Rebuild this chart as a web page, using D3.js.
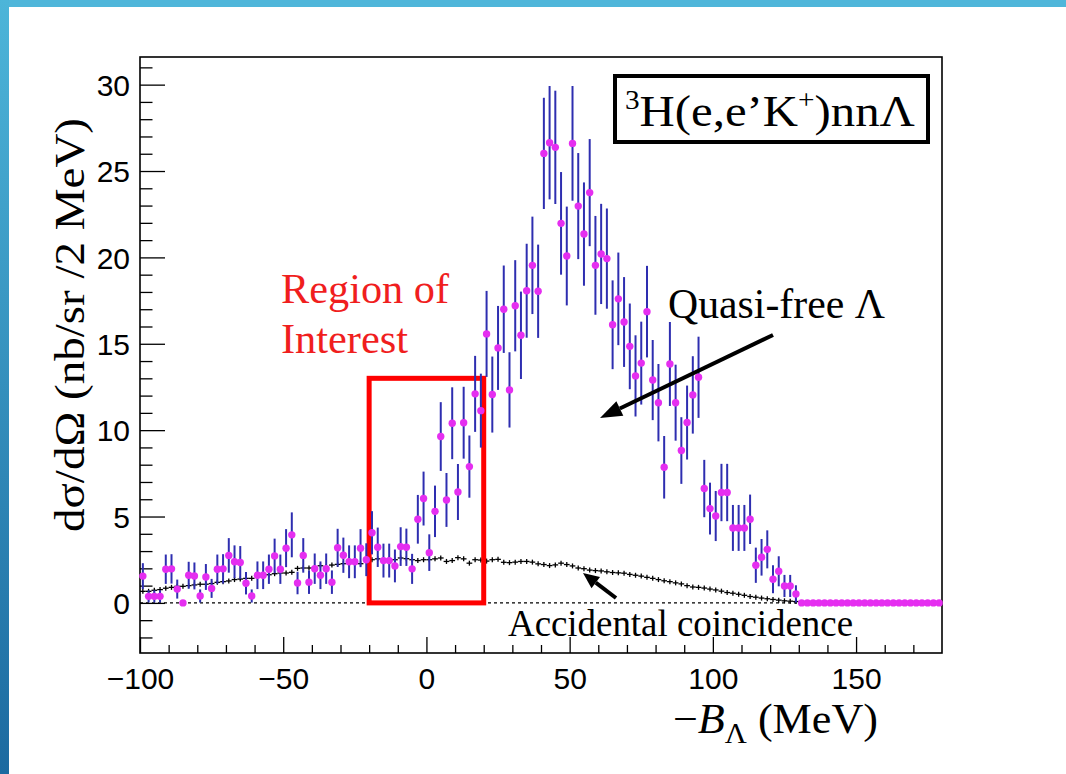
<!DOCTYPE html>
<html>
<head>
<meta charset="utf-8">
<script src="https://cdn.jsdelivr.net/npm/d3@7"></script>
<style>
  html, body { margin: 0; padding: 0; background: #ffffff; }
  svg { display: block; }
</style>
</head>
<body>
<svg id="chart" width="1066" height="774"></svg>
<script>
// 2 MeV bins from -100 to 180 MeV (bin centres)
const binCenters = d3.range(-99, 180, 2);

// Measured cross section, nb/sr per 2 MeV
const crossSection = [
  1.55, 0.38, 0.38, 0.38, 1.95, 1.97, 0.80, 0.00, 1.60, 1.56,
  0.40, 1.50, 0.84, 1.95, 1.97, 2.75, 2.38, 2.34, 1.14, 0.40,
  1.60, 1.60, 1.95, 2.72, 1.95, 3.17, 3.94, 1.15, 2.75, 1.20,
  1.98, 1.60, 1.98, 1.20, 3.19, 2.76, 2.38, 2.38, 3.17, 2.50,
  4.06, 3.22, 2.45, 2.45, 2.14, 3.26, 3.22, 1.97, 4.84, 6.04,
  2.91, 5.30, 9.63, 5.96, 10.40, 6.42, 10.43, 7.89, 12.10, 11.13,
  15.57, 12.06, 14.76, 17.00, 12.33, 17.20, 15.49, 18.07, 19.54, 18.04,
  26.02, 26.64, 26.37, 21.97, 20.08, 26.60, 22.97, 21.35, 23.75, 19.54,
  20.20, 19.93, 16.10, 17.60, 16.26, 14.85, 13.14, 13.88, 16.86, 12.90,
  11.59, 7.85, 13.83, 11.59, 8.82, 10.44, 12.04, 13.06, 6.62, 5.46,
  5.03, 6.39, 6.39, 4.34, 4.34, 4.34, 4.84, 2.18, 2.64, 3.10,
  1.37, 1.83, 0.98, 0.98, 0.52,
  0, 0, 0, 0, 0, 0, 0, 0, 0, 0, 0, 0, 0, 0, 0, 0, 0, 0, 0, 0, 0, 0, 0, 0, 0
];

// Statistical uncertainty of each bin
const crossSectionErr = [
  0.75, 0.35, 0.35, 0.35, 0.85, 0.85, 0.55, 0.00, 0.78, 0.78,
  0.38, 0.75, 0.55, 0.85, 0.85, 1.00, 0.95, 0.95, 0.65, 0.38,
  0.80, 0.80, 0.85, 1.00, 0.85, 1.10, 1.30, 0.65, 1.00, 0.68,
  0.88, 0.80, 0.88, 0.68, 1.10, 1.02, 0.95, 0.95, 1.10, 0.95,
  1.25, 1.14, 0.98, 0.98, 0.95, 1.12, 1.08, 0.87, 1.41, 1.56,
  1.06, 1.49, 1.99, 1.56, 2.08, 1.62, 2.08, 1.80, 2.20, 2.14,
  2.49, 2.20, 2.43, 2.53, 2.18, 2.64, 2.53, 2.72, 2.82, 2.70,
  3.22, 3.28, 3.28, 2.97, 2.86, 3.32, 3.07, 2.99, 3.10, 2.86,
  2.90, 2.90, 2.57, 2.68, 2.60, 2.48, 2.35, 2.40, 2.65, 2.32,
  2.24, 1.81, 2.43, 2.20, 1.93, 2.14, 2.24, 2.35, 1.66, 1.50,
  1.45, 1.66, 1.66, 1.33, 1.33, 1.33, 1.43, 1.02, 1.06, 1.10,
  0.81, 0.87, 0.64, 0.64, 0.50,
  0, 0, 0, 0, 0, 0, 0, 0, 0, 0, 0, 0, 0, 0, 0, 0, 0, 0, 0, 0, 0, 0, 0, 0, 0
];

// Accidental coincidence background, same binning
const accidentals = [
  0.67, 0.67, 0.73, 0.77, 0.85, 0.90, 0.96, 0.96, 1.00, 1.04,
  1.08, 1.08, 1.12, 1.19, 1.23, 1.27, 1.35, 1.38, 1.42, 1.42,
  1.58, 1.58, 1.63, 1.69, 1.73, 1.73, 1.77, 2.00, 2.02, 2.02,
  2.04, 2.15, 2.08, 2.19, 2.23, 2.27, 2.31, 2.31, 2.27, 2.46,
  2.50, 2.55, 2.48, 2.52, 2.50, 2.60, 2.56, 2.50, 2.45, 2.50,
  2.50, 2.55, 2.60, 2.40, 2.45, 2.62, 2.55, 2.30, 2.50, 2.48,
  2.42, 2.50, 2.52, 2.35, 2.33, 2.36, 2.40, 2.40, 2.36, 2.26,
  2.22, 2.16, 2.20, 2.30, 2.22, 2.14, 2.02, 1.98, 1.90, 1.87,
  1.85, 1.80, 1.76, 1.74, 1.72, 1.65, 1.60, 1.55, 1.48, 1.42,
  1.35, 1.28, 1.23, 1.16, 1.10, 1.00, 0.92, 0.90, 0.86, 0.80,
  0.75, 0.68, 0.60, 0.56, 0.50, 0.44, 0.37, 0.33, 0.28, 0.24,
  0.20, 0.16, 0.12, 0.10, 0.08,
  0, 0, 0, 0, 0, 0, 0, 0, 0, 0, 0, 0, 0, 0, 0, 0, 0, 0, 0, 0, 0, 0, 0, 0, 0
];

const xMajorTicks = [-100, -50, 0, 50, 100, 150];
const xMinorTicks = d3.range(-90, 180, 10).filter(v => v % 50 !== 0);
const yMajorTicks = [0, 5, 10, 15, 20, 25, 30];
const yMinorTicks = d3.range(-2, 32, 1).filter(v => v % 5 !== 0);

const regionOfInterest = { x0: -20, x1: 20, y0: 0, y1: 13 };
const binHalfWidth = 1;

const svg = d3.select("#chart");
const W = 1066, H = 774;
const frame = { left: 140, right: 942, top: 57, bottom: 653 };

const x = d3.scaleLinear().domain([-100, 180]).range([frame.left, frame.right]);
const y = d3.scaleLinear().domain([-2.9, 31.6]).range([frame.bottom, frame.top]);

const serif = "'Liberation Serif', 'Times New Roman', serif";
const sans = "'Liberation Sans', Arial, Helvetica, sans-serif";

// ---- slide decoration ----
const defs = svg.append("defs");
const grad = defs.append("linearGradient").attr("id", "sideBar")
  .attr("x1", 0).attr("y1", 0).attr("x2", 0).attr("y2", 1);
grad.append("stop").attr("offset", "0%").attr("stop-color", "#4db5d9");
grad.append("stop").attr("offset", "100%").attr("stop-color", "#1c6aa0");
svg.append("rect").attr("x", 0).attr("y", 0).attr("width", W).attr("height", 7).attr("fill", "#4fb6da");
svg.append("rect").attr("x", 0).attr("y", 0).attr("width", 9).attr("height", H).attr("fill", "url(#sideBar)");

// ---- zero line ----
svg.append("line")
  .attr("x1", frame.left).attr("x2", frame.right)
  .attr("y1", y(0)).attr("y2", y(0))
  .attr("stroke", "#000").attr("stroke-width", 1.2)
  .attr("stroke-dasharray", "3,3");

// ---- axes ----
const axisG = svg.append("g").attr("class", "axes");

const xAxisMajor = d3.axisBottom(x).tickValues(xMajorTicks)
  .tickSize(-16).tickPadding(10)
  .tickFormat(d => d < 0 ? "\u2212" + Math.abs(d) : String(d));
const xAxisMinor = d3.axisBottom(x).tickValues(xMinorTicks).tickSize(-8).tickFormat("");
const yAxisMajor = d3.axisLeft(y).tickValues(yMajorTicks)
  .tickSize(-25).tickPadding(10).tickFormat(d => String(d));
const yAxisMinor = d3.axisLeft(y).tickValues(yMinorTicks).tickSize(-12.5).tickFormat("");

function styleAxis(g) {
  g.select(".domain").remove();
  g.selectAll(".tick line").attr("stroke", "#000").attr("stroke-width", 1.3);
  g.selectAll(".tick text").attr("fill", "#000")
    .style("font-family", sans).style("font-size", "30px");
}

axisG.append("g").attr("transform", `translate(0,${frame.bottom})`).call(xAxisMinor).call(styleAxis);
axisG.append("g").attr("transform", `translate(0,${frame.bottom})`).call(xAxisMajor).call(styleAxis)
  .selectAll(".tick text").attr("dy", "0.88em");
axisG.append("g").attr("transform", `translate(${frame.left},0)`).call(yAxisMinor).call(styleAxis);
axisG.append("g").attr("transform", `translate(${frame.left},0)`).call(yAxisMajor).call(styleAxis)
  .selectAll(".tick text").attr("dy", "0.36em");

// plot frame
svg.append("rect")
  .attr("x", frame.left).attr("y", frame.top)
  .attr("width", frame.right - frame.left).attr("height", frame.bottom - frame.top)
  .attr("fill", "none").attr("stroke", "#000").attr("stroke-width", 1.6);

// ---- accidental coincidence histogram ----
const accG = svg.append("g").attr("stroke", "#000").attr("stroke-width", 1.3);
binCenters.forEach((c, i) => {
  const v = accidentals[i];
  accG.append("line")
    .attr("x1", x(c - binHalfWidth)).attr("x2", x(c + binHalfWidth))
    .attr("y1", y(v)).attr("y2", y(v));
  if (v > 0) {
    accG.append("line")
      .attr("x1", x(c)).attr("x2", x(c))
      .attr("y1", y(v) - 2.5).attr("y2", y(v) + 2.5);
  }
});

// ---- region of interest ----
svg.append("rect")
  .attr("x", x(regionOfInterest.x0))
  .attr("y", y(regionOfInterest.y1))
  .attr("width", x(regionOfInterest.x1) - x(regionOfInterest.x0))
  .attr("height", y(regionOfInterest.y0) - y(regionOfInterest.y1))
  .attr("fill", "none").attr("stroke", "#ff0000").attr("stroke-width", 5);

// ---- data: error bars + markers ----
const pts = binCenters.map((c, i) => ({ c, v: crossSection[i], e: crossSectionErr[i] }));

svg.append("g").selectAll("line").data(pts.filter(d => d.e > 0)).join("line")
  .attr("x1", d => x(d.c)).attr("x2", d => x(d.c))
  .attr("y1", d => y(d.v + d.e)).attr("y2", d => y(d.v - d.e))
  .attr("stroke", "#2e2eb0").attr("stroke-width", 2);

svg.append("g").selectAll("circle").data(pts).join("circle")
  .attr("cx", d => x(d.c)).attr("cy", d => y(d.v))
  .attr("r", 3.7).attr("fill", "#e52ef0");

// ---- axis titles ----
svg.append("text")
  .attr("transform", "translate(84,325) rotate(-90)")
  .attr("text-anchor", "middle")
  .attr("textLength", 414).attr("lengthAdjust", "spacingAndGlyphs")
  .style("font-family", serif).style("font-size", "42px").attr("fill", "#000")
  .text("d\u03c3/d\u03a9 (nb/sr /2 MeV)");

const xt = svg.append("text").attr("x", 673).attr("y", 733)
  .attr("textLength", 205).attr("lengthAdjust", "spacingAndGlyphs")
  .style("font-family", serif).style("font-size", "42px").attr("fill", "#000");
xt.append("tspan").text("\u2212");
xt.append("tspan").style("font-style", "italic").text("B");
xt.append("tspan").attr("dy", 10).style("font-size", "29px").text("\u039b");
xt.append("tspan").attr("dy", -10).text(" (MeV)");

// ---- reaction label box ----
svg.append("rect").attr("x", 615).attr("y", 76).attr("width", 313).attr("height", 66)
  .attr("fill", "#fff").attr("stroke", "#000").attr("stroke-width", 4);
const rx = svg.append("text").attr("x", 625).attr("y", 126)
  .attr("textLength", 290).attr("lengthAdjust", "spacingAndGlyphs")
  .style("font-family", serif).style("font-size", "45px").attr("fill", "#000");
rx.append("tspan").attr("dy", -17).style("font-size", "27px").text("3");
rx.append("tspan").attr("dy", 17).text("H(e,e\u2019K");
rx.append("tspan").attr("dy", -17).style("font-size", "27px").text("+");
rx.append("tspan").attr("dy", 17).text(")nn\u039b");

// ---- annotations ----
svg.append("text").attr("x", 281).attr("y", 303)
  .attr("textLength", 168).attr("lengthAdjust", "spacingAndGlyphs")
  .style("font-family", serif).style("font-size", "42px").attr("fill", "#f01e1e")
  .text("Region of");
svg.append("text").attr("x", 281).attr("y", 353)
  .attr("textLength", 127).attr("lengthAdjust", "spacingAndGlyphs")
  .style("font-family", serif).style("font-size", "42px").attr("fill", "#f01e1e")
  .text("Interest");

svg.append("text").attr("x", 668).attr("y", 318)
  .attr("textLength", 217).attr("lengthAdjust", "spacingAndGlyphs")
  .style("font-family", serif).style("font-size", "42px").attr("fill", "#000")
  .text("Quasi-free \u039b");

svg.append("text").attr("x", 508).attr("y", 636)
  .attr("textLength", 345).attr("lengthAdjust", "spacingAndGlyphs")
  .style("font-family", serif).style("font-size", "37px").attr("fill", "#000")
  .text("Accidental coincidence");

function arrow(x1, y1, x2, y2, width, headLen, headHalf) {
  const ang = Math.atan2(y2 - y1, x2 - x1);
  const bx = x2 - headLen * Math.cos(ang), by = y2 - headLen * Math.sin(ang);
  svg.append("line").attr("x1", x1).attr("y1", y1).attr("x2", bx).attr("y2", by)
    .attr("stroke", "#000").attr("stroke-width", width);
  const px = -Math.sin(ang) * headHalf, py = Math.cos(ang) * headHalf;
  svg.append("path")
    .attr("d", `M${x2},${y2} L${bx + px},${by + py} L${bx - px},${by - py} Z`)
    .attr("fill", "#000");
}
arrow(773, 335, 600, 418, 4, 22, 8);
arrow(616, 598, 583, 573, 4, 16, 7);
</script>
</body>
</html>
